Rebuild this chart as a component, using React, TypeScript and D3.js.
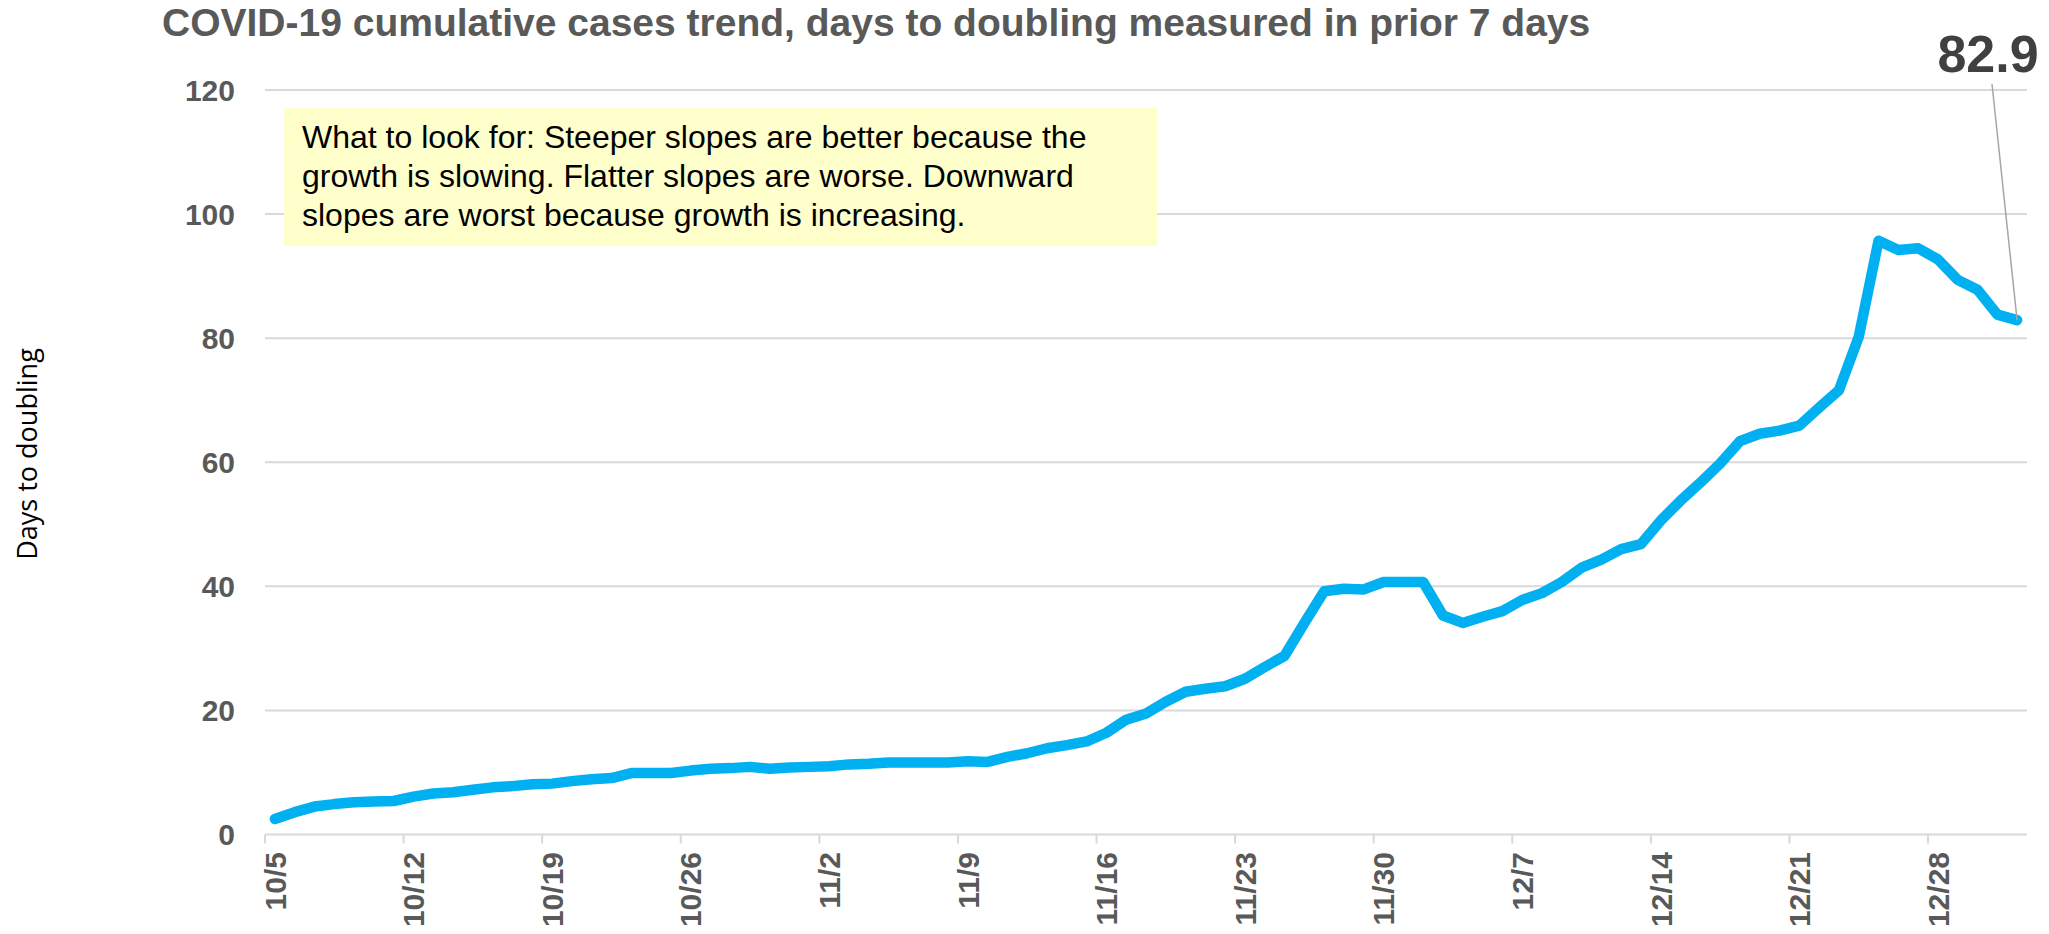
import { useRef, useEffect } from "react";
import * as d3 from "d3";

// days to doubling, one value per day from 10/5 to 1/1
const startDate = new Date(2020, 9, 5);
const endDate = new Date(2021, 0, 2);
const doublingDays = [
  2.5, 3.6, 4.5, 4.9, 5.2, 5.3, 5.4, 6.1, 6.6, 6.8,
  7.2, 7.6, 7.8, 8.1, 8.2, 8.6, 8.9, 9.1, 9.9, 9.9,
  9.9, 10.3, 10.6, 10.7, 10.9, 10.6, 10.8, 10.9, 11.0, 11.3,
  11.4, 11.6, 11.6, 11.6, 11.6, 11.8, 11.7, 12.5, 13.1, 13.9,
  14.4, 15.0, 16.4, 18.5, 19.5, 21.4, 23.0, 23.5, 23.9, 25.1,
  27.0, 28.8, 34.1, 39.2, 39.6, 39.5, 40.7, 40.7, 40.7, 35.3,
  34.1, 35.1, 36.0, 37.8, 38.9, 40.7, 43.0, 44.3, 46.0, 46.8,
  50.6, 53.8, 56.7, 59.8, 63.4, 64.6, 65.1, 65.9, 68.8, 71.6,
  80.2, 95.7, 94.2, 94.5, 92.7, 89.4, 87.8, 83.8, 82.9,
];
const yTicks = [0, 20, 40, 60, 80, 100, 120];
const title = "COVID-19 cumulative cases trend, days to doubling measured in prior 7 days";
const noteLines = [
  "What to look for: Steeper slopes are better because the",
  "growth is slowing. Flatter slopes are worse. Downward",
  "slopes are worst because growth is increasing.",
];
const yTitle = "Days to doubling";

export default function App() {
  const svgRef = useRef<SVGSVGElement>(null);

  useEffect(() => {
    const svg = svgRef.current;
    if (!svg) return;

    const width = 2049;
    const height = 934;
    const plot = { left: 265, right: 2027, top: 90, bottom: 834.5 };
    const font = "'Liberation Sans', Arial, sans-serif";

    const days = d3.timeDay.range(startDate, endDate);
    const data = days.map((d, i) => ({ date: d, value: doublingDays[i] }));
    const fmt = d3.timeFormat("%-m/%-d");

    const x = d3
      .scaleBand<Date>()
      .domain(days)
      .range([plot.left, plot.right])
      .padding(0);
    const cx = (d: Date) => (x(d) ?? 0) + x.bandwidth() / 2;

    const y = d3.scaleLinear().domain([0, 120]).range([plot.bottom, plot.top]);

    const sel = d3.select(svg);
    sel.selectAll("*").remove();
    sel.attr("width", width).attr("height", height);

    sel.append("rect").attr("width", width).attr("height", height).attr("fill", "#fff");

    // Gridlines
    sel
      .append("g")
      .selectAll("line")
      .data(yTicks)
      .join("line")
      .attr("x1", plot.left)
      .attr("x2", plot.right)
      .attr("y1", (d) => y(d))
      .attr("y2", (d) => y(d))
      .attr("stroke", "#d9d9d9")
      .attr("stroke-width", 2);

    // Y labels
    sel
      .append("g")
      .selectAll("text")
      .data(yTicks)
      .join("text")
      .attr("x", 235)
      .attr("y", (d) => y(d))
      .attr("dy", "0.36em")
      .attr("text-anchor", "end")
      .attr("font-family", font)
      .attr("font-weight", "bold")
      .attr("font-size", 30)
      .attr("fill", "#595959")
      .text((d) => d);

    // X ticks at category boundaries every 7 days
    const weekly = days.filter((_, i) => i % 7 === 0);
    sel
      .append("g")
      .selectAll("line")
      .data(weekly)
      .join("line")
      .attr("x1", (d) => x(d) ?? 0)
      .attr("x2", (d) => x(d) ?? 0)
      .attr("y1", plot.bottom)
      .attr("y2", plot.bottom + 9)
      .attr("stroke", "#d9d9d9")
      .attr("stroke-width", 2);

    sel
      .append("g")
      .selectAll("text")
      .data(weekly)
      .join("text")
      .attr("transform", (d) => `translate(${cx(d)},852) rotate(-90)`)
      .attr("dy", "0.36em")
      .attr("text-anchor", "end")
      .attr("font-family", font)
      .attr("font-weight", "bold")
      .attr("font-size", 30)
      .attr("fill", "#595959")
      .text((d) => fmt(d));

    // Note box
    const note = sel.append("g");
    note
      .append("rect")
      .attr("x", 284)
      .attr("y", 108)
      .attr("width", 873)
      .attr("height", 138)
      .attr("fill", "#ffffcc");
    note
      .selectAll("text")
      .data(noteLines)
      .join("text")
      .attr("x", 302)
      .attr("y", (_, i) => 148 + i * 39)
      .attr("font-family", font)
      .attr("font-size", 32)
      .attr("fill", "#000")
      .text((d) => d);

    // Line
    const line = d3
      .line<{ date: Date; value: number }>()
      .x((d) => cx(d.date))
      .y((d) => y(d.value));
    sel
      .append("path")
      .datum(data)
      .attr("fill", "none")
      .attr("stroke", "#00b0f0")
      .attr("stroke-width", 10.5)
      .attr("stroke-linejoin", "round")
      .attr("stroke-linecap", "round")
      .attr("d", line);

    // Last value callout
    const last = data[data.length - 1];
    sel
      .append("line")
      .attr("x1", 1992)
      .attr("y1", 84)
      .attr("x2", cx(last.date))
      .attr("y2", y(last.value))
      .attr("stroke", "#a6a6a6")
      .attr("stroke-width", 1.5);
    sel
      .append("text")
      .attr("x", 1988)
      .attr("y", 72)
      .attr("text-anchor", "middle")
      .attr("font-family", font)
      .attr("font-weight", "bold")
      .attr("font-size", 52)
      .attr("fill", "#404040")
      .text(last.value.toFixed(1));

    // Title
    sel
      .append("text")
      .attr("x", 162)
      .attr("y", 36)
      .attr("font-family", font)
      .attr("font-weight", "bold")
      .attr("font-size", 39)
      .attr("fill", "#595959")
      .text(title);

    // Y axis title
    sel
      .append("text")
      .attr("transform", "translate(37,454) rotate(-90)")
      .attr("text-anchor", "middle")
      .attr("font-family", "'Open Sans', sans-serif")
      .attr("font-size", 27)
      .attr("fill", "#000")
      .text(yTitle);
  }, []);

  return <svg ref={svgRef} style={{ position: "absolute", left: 0, top: 0 }} />;
}
